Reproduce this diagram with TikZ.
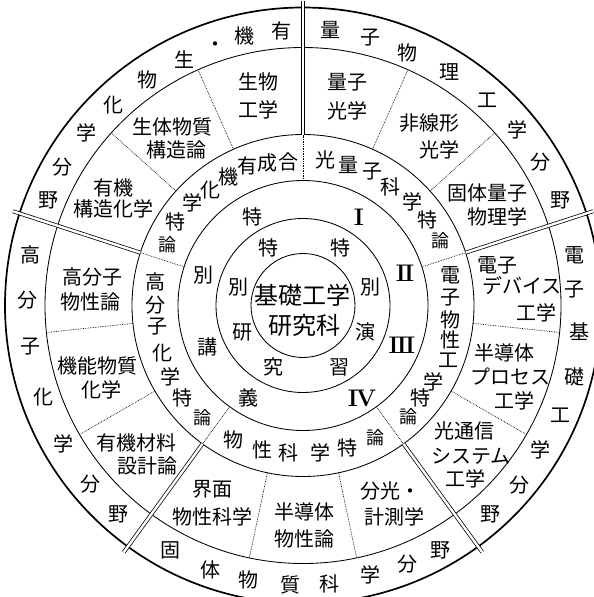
\documentclass[tikz,border=0pt]{standalone}
\usepackage{fontspec}
\newfontfamily\jp{Noto Sans CJK JP}
\usetikzlibrary{calc}
\newcommand\smallron{{\fontsize{18}{20}\selectfont 論}}
\tikzset{
  ringline/.style={line width=0.85pt},
  outerline/.style={line width=1.7pt},
  sepline/.style={double, line width=0.75pt, double distance=2.4pt},
  dotline/.style={densely dotted, line width=0.7pt},
  lbl/.style={inner sep=0pt, font=\jp\fontsize{20}{24}\selectfont},
  centerlbl/.style={inner sep=0pt, font=\jp\fontsize{24}{29}\selectfont},
  romanlbl/.style={inner sep=0pt, font=\bfseries\fontsize{24}{26}\selectfont},
}
\begin{document}
\begin{tikzpicture}[x=1pt,y=-1pt]
\useasboundingbox (0,0) rectangle (594,597);
\clip (0,0) rectangle (594,597);
\coordinate (C) at (303,305.5);
% rings
\foreach \rad/\nm in {258/c2,171/c3,125/c4,87/c5,52/c6}
  \draw[ringline] (C) circle[radius=\rad pt];
\draw[outerline] (C) circle[radius=298pt];
% field separators
\foreach \a [count=\i] in {90,18,-54,-126,162} {
  \coordinate (sepa\i) at ($(C)+(\a:125pt)$);
  \coordinate (sepb\i) at ($(C)+(\a:171pt)$);
  \coordinate (sepc\i) at ($(C)+(\a:305pt)$);
  \draw[dotline] (sepa\i) -- (sepb\i);
  \draw[sepline] (sepb\i) -- (sepc\i);
}
% subject dividers
\foreach \a [count=\i] in {114,138,66,42,-6,-30,-78,-102,186,210} {
  \coordinate (diva\i) at ($(C)+(\a:171pt)$);
  \coordinate (divb\i) at ($(C)+(\a:258pt)$);
  \draw[dotline] (diva\i) -- (divb\i);
}
% outer ring (fields)
\foreach \x/\y/\t [count=\i] in {
 281/31/有, 244/36/機, 215/47/・, 184/60/生, 147/80/物, 113/105/化, 86/133/学, 62/167/分, 48/200/野,
 330/30/量, 370/38/子, 407/53/物, 449/72/理, 487/100/工, 517/130/学, 540/162/分, 560/200/野,
 574/255/電, 574/290/子, 579/332/基, 574/377/礎, 560/415/工, 540/450/学, 519/485/分, 490/514/野,
 170/550/固, 210/570/体, 248/580/物, 290/585/質, 329/584/科, 370/575/学, 407/564/分, 440/550/野,
 30/255/高, 27/300/分, 30/347/子, 43/397/化, 63/444/学, 90/484/分, 118/514/野}
  \node[lbl] (fo\i) at (\x,\y) {\t};
% subject ring
\foreach \x/\y/\t [count=\i] in {
 258/82/生物, 258/110/工学, 172/127/生体物質, 176/150/構造論, 113/188/有機, 113/209/構造化学,
 347/82/量子, 347/111/光学, 429/123/非線形, 439/150/光学, 487/193/固体量子, 497/217/物理学,
 497/265/電子, 522/286/デバイス, 536/313/工学, 504/353/半導体, 510/377/プロセス, 514/401/工学,
 464/431/光通信, 471/456/システム, 465/479/工学, 390/491/分光・, 394/517/計測学,
 304/512/半導体, 304/539/物性論, 212/489/界面, 212/517/物性科学,
 136/443/有機材料, 147/466/設計論, 97/366/機能物質, 101/390/化学, 92/277/高分子, 90/302/物性論}
  \node[lbl] (su\i) at (\x,\y) {\t};
% special lecture ring
\foreach \x/\y/\t [count=\i] in {
 288/162/合, 267/163/成, 247/166/有, 228/177/機, 210/190/化, 192/203/学, 175/222/特, 167/245/\smallron,
 325/160/光, 348/165/量, 372/172/子, 390/187/科, 412/202/学, 427/220/特, 440/241/\smallron,
 450/275/電, 450/298/子, 450/320/物, 450/340/性, 448/360/工, 433/382/学, 420/398/特, 408/417/\smallron,
 233/440/物, 262/450/性, 288/453/科, 320/453/学, 347/448/特, 375/438/\smallron,
 155/282/高, 155/305/分, 157/327/子, 162/353/化, 170/377/学, 182/398/特, 202/418/\smallron}
  \node[lbl] (tk\i) at (\x,\y) {\t};
% special lectures
\foreach \x/\y/\t [count=\i] in {252/217/特, 203/275/別, 207/347/講, 248/398/義}
  \node[lbl] (kg\i) at (\x,\y) {\t};
\node[romanlbl] (rm1) at (359,217) {I};
\node[romanlbl] (rm2) at (405,273) {I\kern-1.8pt I};
\node[romanlbl] (rm3) at (402,345) {I\kern-1.8pt I\kern-1.8pt I};
\node[romanlbl] (rm4) at (362,398) {I\kern-2pt V};
% special research / exercise
\foreach \x/\y/\t [count=\i] in {268/248/特, 238/287/別, 242/332/研, 273/367/究,
  340/248/特, 370/287/別, 365/332/演, 339/367/習}
  \node[lbl] (kk\i) at (\x,\y) {\t};
% centre
\node[centerlbl] (ce1) at (302,295) {基礎工学};
\node[centerlbl] (ce2) at (304,325) {研究科};
\end{tikzpicture}
\end{document}
